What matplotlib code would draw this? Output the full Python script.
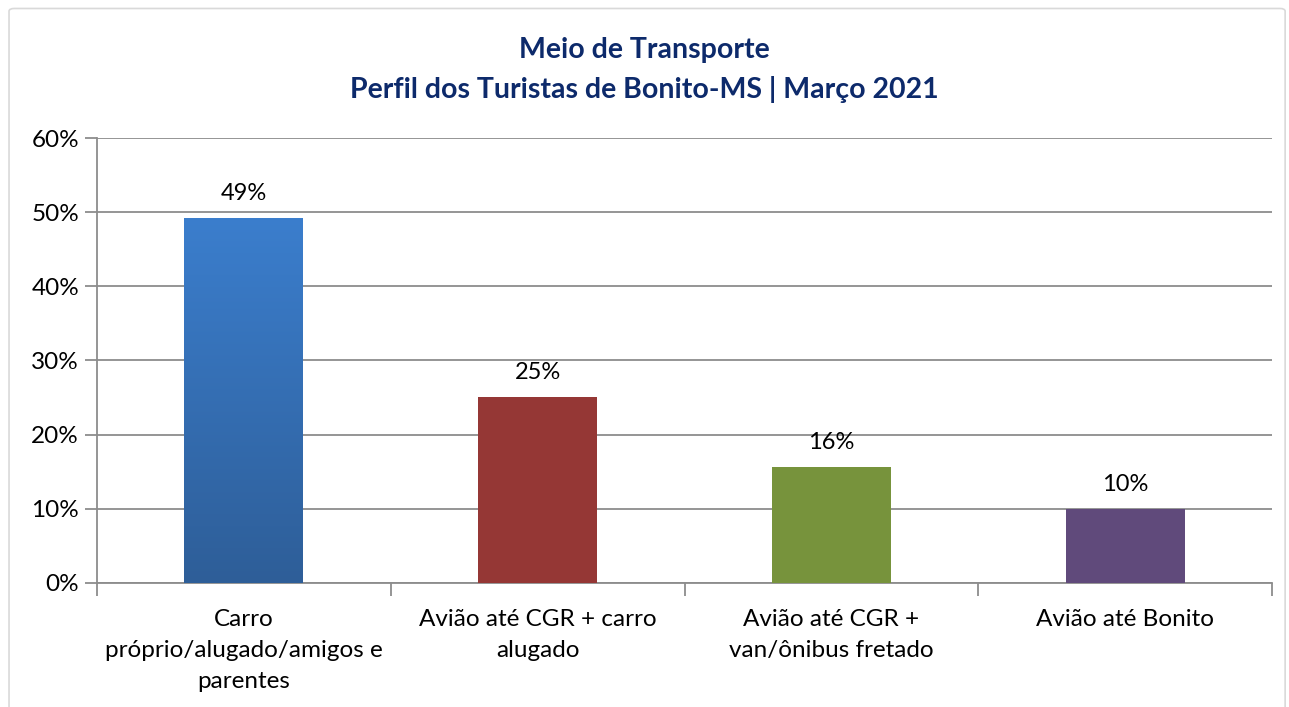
import numpy as np
import matplotlib
from matplotlib import pyplot as plt
from matplotlib.patches import FancyBboxPatch
from matplotlib.colors import LinearSegmentedColormap

matplotlib.rc('font', family=['Lato', 'DejaVu Sans'], size=17)

# Data
categories = ["Carro\npróprio/alugado/amigos e\nparentes",
              "Avião até CGR + carro\nalugado",
              "Avião até CGR +\nvan/ônibus fretado",
              "Avião até Bonito"]
values = [49.2, 25.1, 15.6, 10.0]
labels = ["49%", "25%", "16%", "10%"]
colors = ["#3A7CCB", "#953735", "#77933C", "#604A7B"]
yticks = [0, 10, 20, 30, 40, 50, 60]

fig = plt.figure(figsize=(12.89, 7.07), dpi=100)
ax = fig.add_axes([0.0753, 0.1754, 0.9115, 0.6294])

# outer chart frame
fig.patches.append(FancyBboxPatch((0.007, -0.02), 0.99, 1.008, boxstyle="round,pad=0,rounding_size=0.004",
                                  transform=fig.transFigure, fill=False, edgecolor="#D9D9D9", linewidth=1.2))

x = np.arange(len(categories))
bars = ax.bar(x, values, width=0.405, color=colors, zorder=3)

# gradient on the first bar
grad = LinearSegmentedColormap.from_list("g", ["#2E5E98", "#3B7ECD"])
b = bars[0]
bx, by, bw, bh = b.get_x(), b.get_y(), b.get_width(), b.get_height()
b.set_facecolor("none")
img = ax.imshow(np.linspace(0, 1, 256).reshape(-1, 1), cmap=grad, origin="lower",
                extent=[bx, bx + bw, by, by + bh], aspect="auto", zorder=3)
img.set_clip_path(b)

for xi, v, lab in zip(x, values, labels):
    ax.text(xi, v + 1.9, lab, ha="center", va="bottom", fontsize=17, zorder=4)

ax.set_xlim(-0.5, len(categories) - 0.5)
ax.set_ylim(0, 60)
ax.set_yticks(yticks)
ax.set_yticklabels([f"{t}%" for t in yticks], fontsize=17.5)
ax.yaxis.grid(True, color="#8C8C8C", linewidth=1.3, zorder=0)
ax.set_axisbelow(True)

ax.set_xticks(x)
ax.set_xticklabels(categories, fontsize=17.5, linespacing=1.58)
ax.tick_params(axis="x", length=0, pad=19)
ax.set_xticks(np.arange(-0.5, len(categories)), minor=True)
ax.tick_params(axis="x", which="minor", length=9, color="#8C8C8C", width=1.3)
ax.tick_params(axis="y", length=9, color="#8C8C8C", width=1.3, pad=4)

for s in ["top", "right"]:
    ax.spines[s].set_visible(False)
for s in ["left", "bottom"]:
    ax.spines[s].set_color("#8C8C8C")
    ax.spines[s].set_linewidth(1.3)

fig.text(0.5, 0.929, "Meio de Transporte", ha="center", va="center",
         fontsize=20.5, fontweight="bold", color="#0D2A6B")
fig.text(0.5, 0.873, "Perfil dos Turistas de Bonito-MS | Março 2021", ha="center", va="center",
         fontsize=20.5, fontweight="bold", color="#0D2A6B")

fig.savefig("out.png", dpi=100)
